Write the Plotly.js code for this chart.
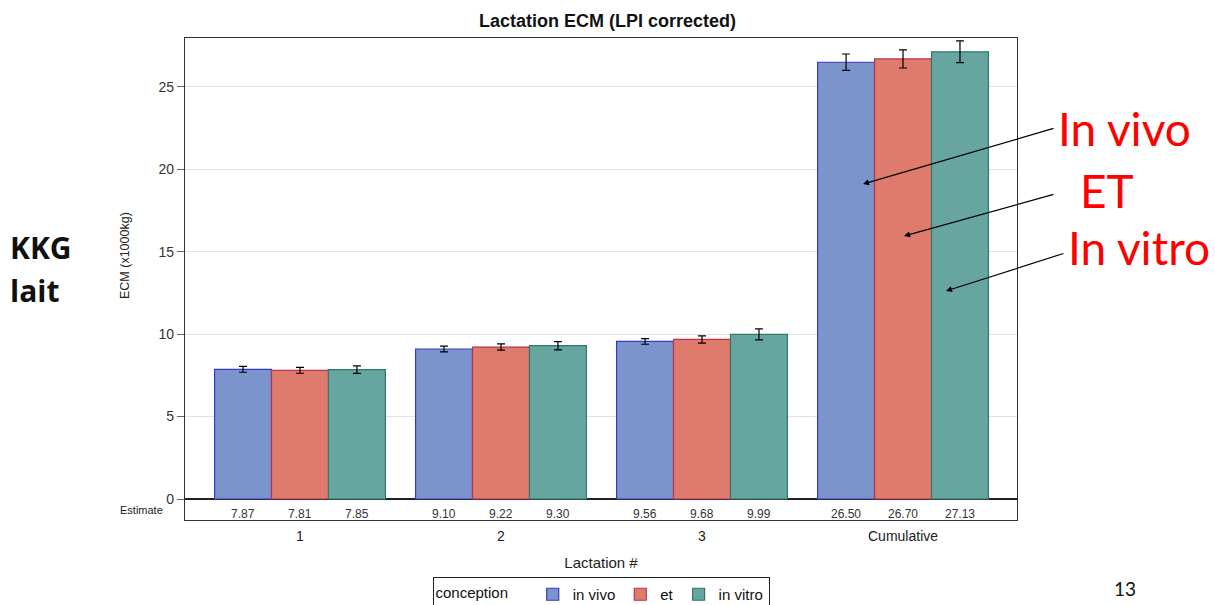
<!DOCTYPE html>
<html>
<head>
<meta charset="utf-8">
<script src="https://cdn.plot.ly/plotly-3.0.1.min.js"></script>
<style>html,body{margin:0;padding:0;background:#fff;}#chart{width:1215px;height:605px;}</style>
</head>
<body>
<div id="chart"></div>
<script>
// ---- data ----
const categories = ['1', '2', '3', 'Cumulative'];
const seriesNames = ['in vivo', 'et', 'in vitro'];
const inVivo = [7.87, 9.10, 9.56, 26.50];
const et = [7.81, 9.22, 9.68, 26.70];
const inVitro = [7.85, 9.30, 9.99, 27.13];
const errInVivo = [0.18, 0.17, 0.17, 0.50];
const errEt = [0.18, 0.19, 0.22, 0.55];
const errInVitro = [0.23, 0.25, 0.33, 0.66];
const yTicks = [0, 5, 10, 15, 20, 25];

// ---- styles ----
const fills = ['#7B94CC', '#DE7B6C', '#66A5A0'];
const outlines = ['#3838C8', '#B8334A', '#2E7A68'];
const values = [inVivo, et, inVitro];
const errs = [errInVivo, errEt, errInVitro];

const W = 1215, H = 605;
const L = 185, R = 198, T = 38, B = 85;
const pw = W - L - R, ph = H - T - B;
const px = x => (x - L) / pw;
const py = y => (H - B - y) / ph;

const traces = seriesNames.map((name, j) => ({
  type: 'bar',
  name: name,
  x: categories,
  y: values[j],
  marker: {color: fills[j], line: {color: outlines[j], width: 1.2}},
  error_y: {type: 'data', array: errs[j], visible: true, color: '#000', thickness: 1.2, width: 4},
  hoverinfo: 'x+y+name'
}));

const groupWidth = 0.85;
const barW = groupWidth / seriesNames.length;
const annotations = [];
function note(xp, yp, text, font, extra) {
  return Object.assign({
    x: px(xp), y: py(yp), xref: 'paper', yref: 'paper',
    xanchor: 'center', yanchor: 'middle', text: text, showarrow: false, font: font
  }, extra || {});
}
// Estimate row
values.forEach((arr, j) => {
  arr.forEach((v, i) => {
    annotations.push({
      x: i + (j - (seriesNames.length - 1) / 2) * barW,
      y: -0.93, xref: 'x', yref: 'y', xanchor: 'center', yanchor: 'middle',
      text: v.toFixed(2), showarrow: false,
      font: {family: 'Liberation Sans, Arial, sans-serif', size: 12, color: '#333'}
    });
  });
});
annotations.push(note(165, 510, 'Estimate',
  {family: 'Liberation Sans Narrow, Liberation Sans, sans-serif', size: 11, color: '#222'}, {xanchor: 'right'}));
// y-axis title
annotations.push(note(125, 256, 'ECM (x1000kg)',
  {family: 'Liberation Sans, Arial, sans-serif', size: 12.5, color: '#222'}, {textangle: -90}));
// KKG lait
annotations.push(note(8, 247, '<b>KKG</b>', {family: 'Open Sans, sans-serif', size: 30, color: '#111'}, {xanchor: 'left'}));
annotations.push(note(8, 290, '<b>lait</b>', {family: 'Open Sans, sans-serif', size: 30, color: '#111'}, {xanchor: 'left'}));
// red labels
const redFont = {family: 'Lato, sans-serif', size: 46, color: '#FF0000'};
annotations.push(note(1124, 128, 'In vivo', redFont));
annotations.push(note(1107, 190, 'ET', redFont));
annotations.push(note(1139, 247, 'In vitro', redFont));
// arrows
const arrows = [[1055, 128, 863, 184], [1055, 194, 904, 236], [1065, 253, 946, 291]];
arrows.forEach(a => {
  annotations.push({
    x: px(a[2]), y: py(a[3]), xref: 'paper', yref: 'paper',
    ax: px(a[0]), ay: py(a[1]), axref: 'paper', ayref: 'paper',
    text: '', showarrow: true, arrowhead: 2, arrowsize: 1, arrowwidth: 1.2, arrowcolor: '#000'
  });
});
// page number
annotations.push(note(1125, 588, '13', {family: 'Lato, sans-serif', size: 19, color: '#111'}));

const layout = {
  width: W, height: H,
  margin: {l: L, r: R, t: T, b: B, pad: 0},
  paper_bgcolor: '#fff', plot_bgcolor: '#fff',
  font: {family: 'Liberation Sans, Arial, sans-serif', size: 13, color: '#222'},
  title: {text: '<b>Lactation ECM (LPI corrected)</b>', x: px(601), xanchor: 'center', y: 1 - 21 / H, yanchor: 'middle',
          font: {size: 18, color: '#111'}},
  barmode: 'group', bargap: 1 - groupWidth, bargroupgap: 0,
  xaxis: {
    type: 'category', range: [-0.572, 3.567],
    showline: true, linecolor: '#333', linewidth: 1.2, mirror: true,
    ticks: '', showgrid: false, zeroline: false,
    tickfont: {size: 14, color: '#222'}, ticklabelstandoff: 3,
    title: {text: 'Lactation #', font: {size: 15, color: '#222'}, standoff: 14},
    automargin: false
  },
  yaxis: {
    range: [-1.274, 27.97], tickvals: yTicks,
    showline: true, linecolor: '#333', linewidth: 1.2, mirror: true,
    ticks: 'outside', ticklen: 7, tickcolor: '#666',
    showgrid: true, gridcolor: '#E3E3E3', gridwidth: 1,
    zeroline: true, zerolinecolor: '#222', zerolinewidth: 1.2,
    tickfont: {size: 14, color: '#333'},
    automargin: false
  },
  showlegend: true,
  legend: {
    orientation: 'h', xref: 'paper', x: px(601), xanchor: 'center',
    yref: 'container', y: 1 - 577 / H, yanchor: 'top',
    bordercolor: '#222', borderwidth: 1, bgcolor: '#fff',
    title: {text: 'conception    ', side: 'left', font: {size: 15, color: '#111'}},
    font: {size: 15, color: '#111'},
    itemwidth: 30, tracegroupgap: 0
  },
  annotations: annotations
};

Plotly.newPlot('chart', traces, layout, {displayModeBar: false, staticPlot: true});
</script>
</body>
</html>
